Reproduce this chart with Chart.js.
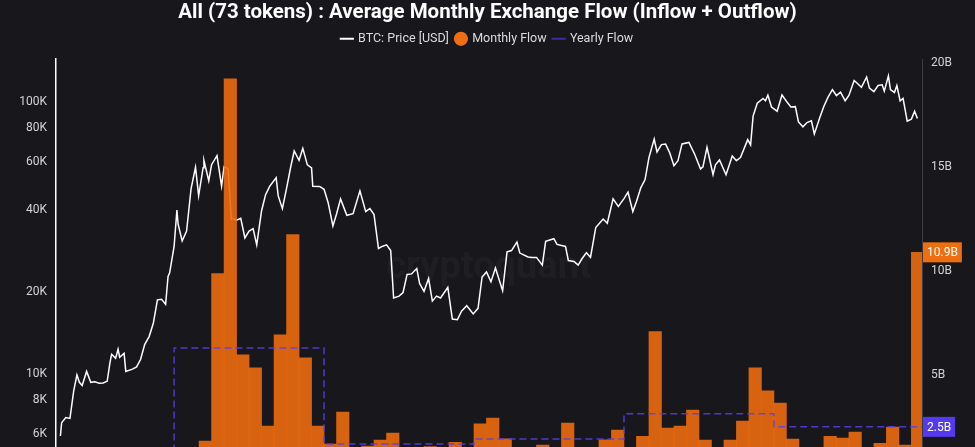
<!DOCTYPE html>
<html>
<head>
<meta charset="utf-8">
<script src="https://cdn.jsdelivr.net/npm/chart.js@4.4.1/dist/chart.umd.min.js"></script>
<style>
  html, body { margin: 0; padding: 0; background: #17171c; overflow: hidden; }
  canvas { display: block; }
</style>
</head>
<body>
<canvas id="flowChart" width="975" height="495"></canvas>
<script>
// months shown as bars (Apr 2020 .. Dec 2025)
const monthLabels = [
  '2020-04','2020-05','2020-06','2020-07','2020-08','2020-09','2020-10','2020-11','2020-12',
  '2021-01','2021-02','2021-03','2021-04','2021-05','2021-06','2021-07','2021-08','2021-09','2021-10','2021-11','2021-12',
  '2022-01','2022-02','2022-03','2022-04','2022-05','2022-06','2022-07','2022-08','2022-09','2022-10','2022-11','2022-12',
  '2023-01','2023-02','2023-03','2023-04','2023-05','2023-06','2023-07','2023-08','2023-09','2023-10','2023-11','2023-12',
  '2024-01','2024-02','2024-03','2024-04','2024-05','2024-06','2024-07','2024-08','2024-09','2024-10','2024-11','2024-12',
  '2025-01','2025-02','2025-03','2025-04','2025-05','2025-06','2025-07','2025-08','2025-09','2025-10','2025-11','2025-12'
];

// average monthly flow, billions USD
const monthlyFlow = [
  0.8, 1.0, 0.7, 0.6, 0.9, 0.8, 0.7, 1.1, 1.2,
  1.35, 1.3, 1.81, 9.88, 19.25, 5.97, 5.34, 2.54, 6.93, 11.76, 5.82, 2.54,
  1.67, 3.21, 1.2, 1.57, 1.86, 2.2, 1.1, 1.0, 1.55, 0.9, 1.76, 0.8,
  2.65, 2.92, 1.92, 1.52, 1.1, 1.62, 1.2, 2.68, 1.0, 1.3, 1.87, 2.34,
  1.35, 2.05, 7.08, 2.44, 2.54, 3.31, 1.86, 1.3, 1.86, 2.78, 5.34, 4.23,
  3.65, 1.91, 1.52, 1.3, 2.05, 1.96, 2.25, 1.35, 1.71, 2.49, 1.62, 10.9
];

// yearly average flow, billions USD
const flowYears = [2020, 2021, 2022, 2023, 2024, 2025];
const yearlyFlow = [0.9, 6.3, 1.68, 1.92, 3.13, 2.5];

// BTC price
const priceDates = [
  '2020-03-29','2020-04-01','2020-04-11','2020-04-21','2020-04-30','2020-05-08','2020-05-14','2020-05-21',
  '2020-06-01','2020-06-11','2020-06-21','2020-07-01','2020-07-11','2020-07-21','2020-07-28','2020-08-01',
  '2020-08-11','2020-08-17','2020-08-21','2020-09-01','2020-09-05','2020-09-21','2020-10-01','2020-10-11',
  '2020-10-21','2020-11-01','2020-11-11','2020-11-21','2020-12-01','2020-12-11','2020-12-17','2020-12-21',
  '2021-01-01','2021-01-08','2021-01-11','2021-01-21','2021-02-01','2021-02-11','2021-02-21','2021-02-28',
  '2021-03-11','2021-03-13','2021-03-25','2021-04-01','2021-04-14','2021-04-25','2021-05-01','2021-05-11',
  '2021-05-19','2021-05-21','2021-06-01','2021-06-11','2021-06-21','2021-07-01','2021-07-11','2021-07-20',
  '2021-08-01','2021-08-11','2021-08-21','2021-09-06','2021-09-11','2021-09-21','2021-10-01','2021-10-11',
  '2021-10-20','2021-11-01','2021-11-10','2021-11-21','2021-12-01','2021-12-04','2021-12-21','2022-01-01',
  '2022-01-11','2022-01-23','2022-02-01','2022-02-10','2022-02-24','2022-03-11','2022-03-28','2022-04-11',
  '2022-04-21','2022-05-01','2022-05-12','2022-05-21','2022-06-01','2022-06-11','2022-06-18','2022-07-01',
  '2022-07-11','2022-07-21','2022-08-01','2022-08-14','2022-08-21','2022-09-01','2022-09-12','2022-09-21',
  '2022-10-01','2022-10-11','2022-10-29','2022-11-09','2022-11-21','2022-12-01','2022-12-14','2022-12-30',
  '2023-01-11','2023-01-21','2023-02-01','2023-02-11','2023-02-21','2023-03-10','2023-03-21','2023-04-01',
  '2023-04-14','2023-04-21','2023-05-11','2023-05-21','2023-06-01','2023-06-15','2023-06-23','2023-07-13',
  '2023-07-21','2023-08-11','2023-08-18','2023-09-01','2023-09-11','2023-09-21','2023-10-01','2023-10-11',
  '2023-10-24','2023-11-11','2023-11-21','2023-12-05','2023-12-18','2024-01-01','2024-01-11','2024-01-23',
  '2024-02-01','2024-02-11','2024-02-21','2024-03-01','2024-03-14','2024-03-21','2024-04-01','2024-04-11',
  '2024-04-21','2024-05-01','2024-05-11','2024-05-21','2024-06-07','2024-06-21','2024-07-05','2024-07-11',
  '2024-07-21','2024-08-05','2024-08-11','2024-08-21','2024-09-06','2024-09-21','2024-10-01','2024-10-11',
  '2024-10-29','2024-11-05','2024-11-11','2024-11-21','2024-12-05','2024-12-11','2024-12-17','2024-12-26',
  '2025-01-09','2025-01-21','2025-02-01','2025-02-11','2025-02-21','2025-02-28','2025-03-11','2025-03-21',
  '2025-04-01','2025-04-08','2025-04-21','2025-05-01','2025-05-11','2025-05-22','2025-06-01','2025-06-11',
  '2025-06-22','2025-07-01','2025-07-14','2025-07-21','2025-08-01','2025-08-14','2025-08-21','2025-09-01',
  '2025-09-11','2025-09-21','2025-09-26','2025-10-06','2025-10-11','2025-10-21','2025-10-27','2025-11-04',
  '2025-11-11','2025-11-21','2025-12-01','2025-12-09','2025-12-16'
];
const priceValues = [
  5900, 6600, 6900, 6850, 8650, 9900, 9300, 9050,
  10200, 9300, 9350, 9230, 9250, 9380, 11000, 11800,
  11400, 12300, 11500, 11900, 10200, 10400, 10600, 11300,
  12800, 13700, 15300, 18700, 18800, 18000, 22800, 23500,
  29400, 40000, 35500, 30800, 33500, 47900, 57500, 45200,
  57300, 61000, 51300, 58800, 63500, 49000, 57800, 56700,
  37000, 37300, 36700, 37300, 31600, 33500, 34200, 29800,
  39800, 45600, 48900, 52600, 45100, 40500, 48100, 57400,
  66000, 61000, 67500, 58700, 57200, 49000, 48900, 47700,
  42700, 35000, 38700, 44000, 38300, 38800, 47100, 39500,
  40500, 38500, 28900, 29400, 29800, 28400, 19000, 19300,
  19900, 23200, 23300, 24400, 21500, 20100, 22400, 18500,
  19300, 19000, 20800, 15900, 15800, 17000, 17800, 16600,
  17400, 22700, 23700, 21800, 24500, 20200, 28100, 28400,
  30500, 27800, 26900, 26800, 26800, 25100, 30700, 31400,
  29900, 29400, 26100, 25900, 25100, 26600, 27900, 26800,
  34500, 37100, 35800, 44000, 41300, 44100, 46600, 39500,
  43000, 48300, 51800, 62400, 73000, 65500, 69700, 70000,
  64900, 58300, 60800, 70100, 71000, 64100, 56700, 57700,
  68100, 54000, 58700, 61200, 54000, 63300, 60800, 62400,
  72700, 69500, 88700, 98900, 103000, 101100, 106000, 95800,
  92500, 106100, 100600, 95800, 96100, 84400, 81000, 84000,
  85200, 76300, 87500, 96500, 104000, 111000, 105600, 108700,
  101000, 105700, 120000, 117400, 113300, 123500, 112500, 109200,
  115000, 115700, 109600, 124700, 111000, 108400, 115000, 101000,
  103000, 85000, 86500, 92500, 87000
];

const priceTicks = [6000, 8000, 10000, 20000, 40000, 60000, 80000, 100000];
const flowTicks = [5e9, 10e9, 15e9, 20e9];

// month index: 0 = centre of Apr 2020
function monthIndex(dateStr) {
  const [y, m, d] = dateStr.split('-').map(Number);
  const days = new Date(y, m, 0).getDate();
  return (y - 2020) * 12 + (m - 1) - 3 - 0.5 + (d - 1) / days;
}

const barData = monthLabels.map((lab, i) => ({ x: monthIndex(lab + '-01') + 0.5, y: monthlyFlow[i] * 1e9 }));
const priceData = priceDates.map((d, i) => ({ x: monthIndex(d), y: priceValues[i] }));
const yearlyData = flowYears.map((yr, i) => ({ x: monthIndex(yr === 2020 ? '2020-04-01' : yr + '-01-01'), y: yearlyFlow[i] * 1e9 }));
yearlyData.push({ x: monthIndex('2026-01-01'), y: yearlyFlow[yearlyFlow.length - 1] * 1e9 });

const colors = {
  bg: '#17171c',
  price: '#ffffff',
  bar: 'rgba(236, 108, 16, 0.9)',
  barTag: '#ee6e12',
  yearly: 'rgba(88, 64, 235, 0.85)',
  yearlyTag: '#5539ee',
  tick: '#d4d4d8'
};

const bgPlugin = {
  id: 'bg',
  beforeDraw(chart) {
    const { ctx, width, height } = chart;
    ctx.save();
    ctx.fillStyle = colors.bg;
    ctx.fillRect(0, 0, width, height);
    ctx.restore();
  }
};

// extra room under the legend
const legendGapPlugin = {
  id: 'legendGap',
  beforeInit(chart) {
    const fit = chart.legend.fit;
    chart.legend.fit = function () {
      fit.bind(chart.legend)();
      this.height += 4;
    };
  }
};

const watermarkPlugin = {
  id: 'watermark',
  beforeDatasetsDraw(chart) {
    const { ctx, chartArea } = chart;
    ctx.save();
    ctx.fillStyle = 'rgba(255,255,255,0.03)';
    ctx.font = 'bold 38px Roboto';
    ctx.textAlign = 'center';
    ctx.textBaseline = 'middle';
    ctx.fillText('cryptoquant', (chartArea.left + chartArea.right) / 2, 268);
    ctx.restore();
  }
};

// value tags on the right axis
function drawTag(ctx, x, y, text, fill) {
  ctx.font = '12px Roboto';
  const w = ctx.measureText(text).width + 8;
  ctx.fillStyle = fill;
  ctx.fillRect(x, y - 10, w, 20);
  ctx.fillStyle = '#ffffff';
  ctx.textAlign = 'left';
  ctx.textBaseline = 'middle';
  ctx.fillText(text, x + 4, y + 1);
}

const tagPlugin = {
  id: 'tags',
  afterDraw(chart) {
    const { ctx, chartArea } = chart;
    const yR = chart.scales.yFlow;
    const lastBar = monthlyFlow[monthlyFlow.length - 1];
    const lastYear = yearlyFlow[yearlyFlow.length - 1];
    ctx.save();
    drawTag(ctx, chartArea.right + 1, yR.getPixelForValue(lastBar * 1e9), lastBar.toFixed(1) + 'B', colors.barTag);
    drawTag(ctx, chartArea.right + 1, yR.getPixelForValue(lastYear * 1e9), lastYear.toFixed(1) + 'B', colors.yearlyTag);
    ctx.restore();
  }
};

new Chart(document.getElementById('flowChart'), {
  type: 'bar',
  data: {
    datasets: [
      {
        type: 'line',
        label: 'BTC: Price [USD]',
        data: priceData,
        yAxisID: 'yPrice',
        borderColor: colors.price,
        borderWidth: 1.5,
        pointRadius: 0,
        tension: 0,
        order: 3
      },
      {
        type: 'bar',
        label: 'Monthly Flow',
        data: barData,
        yAxisID: 'yFlow',
        backgroundColor: colors.bar,
        borderWidth: 0,
        barPercentage: 1,
        categoryPercentage: 1,
        order: 2
      },
      {
        type: 'line',
        label: 'Yearly Flow',
        data: yearlyData,
        yAxisID: 'yFlow',
        borderColor: colors.yearly,
        borderWidth: 1.5,
        borderDash: [7, 4],
        stepped: 'before',
        pointRadius: 0,
        order: 1
      }
    ]
  },
  options: {
    responsive: false,
    animation: false,
    layout: { padding: 0, autoPadding: false },
    plugins: {
      title: {
        display: true,
        text: 'All (73 tokens) : Average Monthly Exchange Flow (Inflow + Outflow)',
        color: '#ffffff',
        font: { family: 'Roboto', size: 20.5, weight: 'bold' },
        padding: { top: 1, bottom: 0 }
      },
      legend: {
        position: 'top',
        labels: {
          color: '#dcdcdc',
          font: { family: 'Roboto', size: 12.5 },
          usePointStyle: true,
          boxWidth: 10,
          boxHeight: 10,
          padding: 7,
          generateLabels: () => [
            { text: 'BTC: Price [USD]', fillStyle: colors.price, strokeStyle: colors.price, lineWidth: 2, pointStyle: 'line', datasetIndex: 0, fontColor: '#dcdcdc' },
            { text: 'Monthly Flow', fillStyle: colors.barTag, strokeStyle: colors.barTag, lineWidth: 0, pointStyle: 'circle', datasetIndex: 1, fontColor: '#dcdcdc' },
            { text: 'Yearly Flow', fillStyle: '#3a2f9c', strokeStyle: '#3a2f9c', lineWidth: 2, pointStyle: 'line', datasetIndex: 2, fontColor: '#dcdcdc' }
          ]
        }
      },
      tooltip: { enabled: false }
    },
    scales: {
      x: {
        type: 'linear',
        display: false,
        offset: false,
        min: -0.95,
        max: 68.35
      },
      yPrice: {
        type: 'logarithmic',
        position: 'left',
        min: 4106,
        max: 143800,
        grid: { display: false, drawTicks: false },
        border: { display: true, color: '#ffffff', width: 1.5 },
        afterBuildTicks: (axis) => { axis.ticks = priceTicks.map(v => ({ value: v })); },
        afterFit: (axis) => { axis.width = 56; },
        ticks: {
          color: colors.tick,
          font: { family: 'Roboto', size: 12 },
          padding: 9,
          autoSkip: false,
          callback: (v) => (v / 1000) + 'K'
        }
      },
      yFlow: {
        type: 'linear',
        position: 'right',
        min: 0,
        max: 20.2e9,
        grid: { display: false, drawTicks: false },
        border: { display: true, color: '#3c3c44', width: 1 },
        afterBuildTicks: (axis) => { axis.ticks = flowTicks.map(v => ({ value: v })); },
        afterFit: (axis) => { axis.width = 53; },
        ticks: {
          color: colors.tick,
          font: { family: 'Roboto', size: 12 },
          padding: 9,
          autoSkip: false,
          callback: (v) => (v / 1e9) + 'B'
        }
      }
    }
  },
  plugins: [bgPlugin, legendGapPlugin, watermarkPlugin, tagPlugin]
});
</script>
</body>
</html>
